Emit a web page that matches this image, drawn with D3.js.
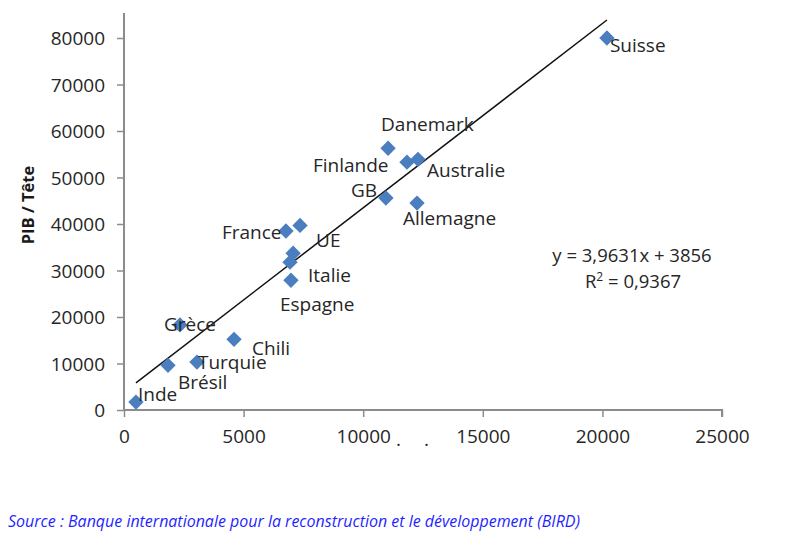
<!DOCTYPE html>
<html><head><meta charset="utf-8">
<script src="https://d3js.org/d3.v7.min.js"></script>
<style>
html,body{margin:0;padding:0;background:#fff;}
svg{display:block;}
text{font-family:"Open Sans",sans-serif;}
</style></head>
<body>
<svg id="c" width="800" height="537"></svg>
<script>
// ---- data ----
const countries = ["Suisse","Danemark","Finlande","Australie","GB","Allemagne","France","","UE","Italie","Espagne","Grèce","Chili","Turquie","Brésil","Inde"];
const gdpX = [20190,11040,11830,12290,10950,12250,6770,7360,7070,6940,6980,2340,4600,3050,1840,500];
const gdpPerHead = [80000,56300,53300,53900,45600,44500,38500,39700,33700,31800,27900,18300,15200,10300,9600,1700];
const xTicks = [0,5000,10000,15000,20000,25000];
const yTicks = [0,10000,20000,30000,40000,50000,60000,70000,80000];
const slope = 3.9631, intercept = 3856, r2 = "0,9367";
const yAxisTitle = "PIB / Tête";
const sourceText = "Source : Banque internationale pour la reconstruction et le développement (BIRD)";

// label layout (offsets from point, in px)
const labelPos = {
  "Suisse":[3,7],"Danemark":[-7,-24],"Finlande":[-94,3],"Australie":[9,11],"GB":[-35,-8],
  "Allemagne":[-14,15],"France":[-64,1],"UE":[23,-13],"Italie":[18,13],"Espagne":[-11,24],
  "Grèce":[-16,-1],"Chili":[18,9],"Turquie":[1,0],"Brésil":[10,17],"Inde":[2,-8]
};

const svg = d3.select("#c");
const x = d3.scaleLinear().domain([0,25000]).range([124,722]);
const y = d3.scaleLinear().domain([0,80000]).range([410,38]);
const yTopValue = 85400;
const axisColor = "#8c8c8c";

// y axis
const gy = svg.append("g").attr("transform",`translate(${x(0)},0)`)
  .call(d3.axisLeft(y).tickValues(yTicks).tickSize(7).tickPadding(12).tickFormat(d3.format("d")));
gy.select(".domain").remove();
gy.selectAll(".tick line").attr("stroke",axisColor).attr("stroke-width",1.5);
gy.selectAll(".tick text").attr("fill","#262626").style("font-size","19px").attr("dy","0.35em");
svg.append("line").attr("x1",x(0)).attr("x2",x(0)).attr("y1",y(0)).attr("y2",y(yTopValue))
  .attr("stroke",axisColor).attr("stroke-width",2);

// x axis
const gx = svg.append("g").attr("transform",`translate(0,${y(0)})`)
  .call(d3.axisBottom(x).tickValues(xTicks).tickSize(7).tickPadding(13).tickFormat(d3.format("d")));
gx.select(".domain").attr("stroke",axisColor).attr("stroke-width",2).attr("d",`M${x(0)},0H${x(25000)}V7`);
gx.selectAll(".tick line").attr("stroke",axisColor).attr("stroke-width",1.5);
gx.selectAll(".tick text").attr("fill","#262626").style("font-size","19px");

// small artifacts under x axis
svg.append("text").attr("x",396).attr("y",446).attr("fill","#262626").style("font-size","19px").text(".");
svg.append("text").attr("x",424).attr("y",446).attr("fill","#262626").style("font-size","19px").text(".");

// y axis title
svg.append("text").attr("transform",`translate(34,${205}) rotate(-90)`).attr("text-anchor","middle")
  .attr("fill","#1a1a1a").style("font-size","16.5px").style("font-weight","bold").text(yAxisTitle);

// trend line
const ext = d3.extent(gdpX);
svg.append("line").attr("x1",x(ext[0])).attr("y1",y(slope*ext[0]+intercept))
  .attr("x2",x(ext[1])).attr("y2",y(slope*ext[1]+intercept))
  .attr("stroke","#111").attr("stroke-width",1.5);

// points
const pts = countries.map((c,i)=>({c, vx:gdpX[i], vy:gdpPerHead[i]}));
const sym = d3.symbol().type(d3.symbolSquare).size(118);
svg.append("g").selectAll("path").data(pts).join("path")
  .attr("d",sym)
  .attr("transform",d=>`translate(${x(d.vx)},${y(d.vy)}) rotate(45)`)
  .attr("fill","#4a7ebf");

// labels
svg.append("g").selectAll("text").data(pts.filter(d=>d.c)).join("text")
  .attr("x",d=>x(d.vx)+labelPos[d.c][0])
  .attr("y",d=>y(d.vy)+labelPos[d.c][1]+7)
  .attr("fill","#262626").style("font-size","19px").text(d=>d.c);

// equation
svg.append("text").attr("x",632).attr("y",262).attr("text-anchor","middle").attr("fill","#262626")
  .style("font-size","18.5px").text(`y = ${String(slope).replace(".",",")}x + ${intercept}`);
const r = svg.append("text").attr("x",633).attr("y",288).attr("text-anchor","middle").attr("fill","#262626")
  .style("font-size","18.5px");
r.append("tspan").text("R");
r.append("tspan").attr("dy",-7).style("font-size","12px").text("2");
r.append("tspan").attr("dy",7).text(` = ${r2}`);

// source
svg.append("text").attr("x",8).attr("y",527).attr("fill","#1f1fff").style("font-size","16.5px")
  .style("font-style","italic").attr("textLength",572).attr("lengthAdjust","spacingAndGlyphs").text(sourceText);
</script>
</body></html>
